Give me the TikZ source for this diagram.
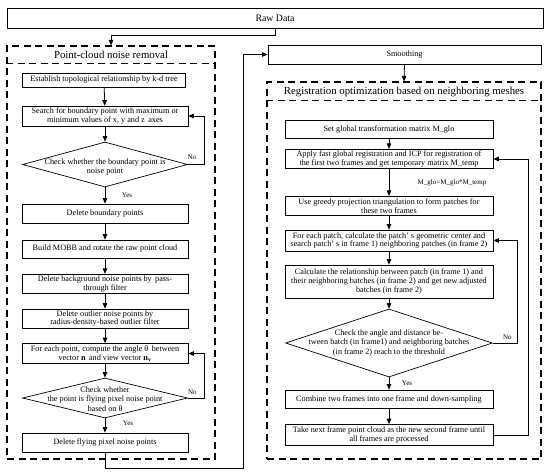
\documentclass[tikz,border=0pt]{standalone}
\usepackage{fontspec}
\setmainfont{Liberation Serif}
\usetikzlibrary{arrows.meta,shapes.geometric}
\begin{document}
\begin{tikzpicture}[x=1pt,y=-1pt,
  box/.style={draw,line width=0.7pt,inner sep=0pt,align=center,font=\fontsize{8.2}{8.9}\selectfont},
  lbox/.style={box,minimum width=166pt},
  rbox/.style={box,minimum width=208pt},
  dia/.style={draw,diamond,line width=0.7pt,inner sep=0pt},
  dtxt/.style={align=center,inner sep=0pt,font=\fontsize{8.2}{9.6}\selectfont},
  dbox/.style={draw,line width=1.1pt,dash pattern=on 7pt off 4.5pt,inner sep=0pt},
  dline/.style={line width=1.1pt,dash pattern=on 7pt off 4.5pt},
  arr/.style={line width=0.8pt,-{Triangle[length=5.5pt,width=4.5pt]}},
  lbl/.style={font=\fontsize{7}{8}\selectfont,inner sep=0pt},
  ttl/.style={font=\fontsize{10.8}{12}\selectfont,inner sep=0pt}]
\useasboundingbox (0,0) rectangle (550,472);

% containers
\node[dbox,minimum width=208pt,minimum height=413pt] (lb) at (111,252.5) {};
\node[dbox,minimum width=274pt,minimum height=377pt] (rb) at (404,270.5) {};
\draw[dline] ([yshift=-18pt]lb.north west) -- ([yshift=-18pt]lb.north east);
\draw[dline] ([yshift=-19pt]rb.north west) -- ([yshift=-19pt]rb.north east);
\node[ttl] (t1) at ([yshift=-9pt]lb.north) {Point-cloud noise removal};
\node[ttl] (t2) at ([yshift=-10pt]rb.north) {Registration optimization based on neighboring meshes};

% top boxes
\node[box,minimum width=536pt,minimum height=20pt,font=\fontsize{9.8}{11}\selectfont] (raw) at (275,18) {Raw Data};
\node[box,minimum width=273pt,minimum height=19pt] (smooth) at (404.5,54.5) {Smoothing};

% left column
\node[lbox,minimum width=163pt,minimum height=14pt] (e1) at (104,80) {Establish topological relationship by k-d tree};
\node[lbox,minimum height=20pt] (e2) at (105,116) {Search for boundary point with maximum or\\minimum values of x, y and z\, axes};
\node[dia,minimum width=165pt,minimum height=45pt] (d1) at (105,164.5) {};
\node[dtxt] (d1t) at (105,167) {Check whether the boundary point is\\noise point};
\node[lbox,minimum height=19pt] (e3) at (105,213.5) {Delete boundary points};
\node[lbox,minimum height=18pt] (e4) at (105,249) {Build MOBB and rotate the raw point cloud};
\node[lbox,minimum height=19.5pt] (e5) at (105,284) {Delete background noise points by\, pass-\\through filter};
\node[lbox,minimum height=19pt] (e6) at (105,318.5) {Delete outlier noise points by\\radius-density-based outlier filter};
\node[lbox,minimum height=20pt] (e7) at (105,353.5) {For each point, compute the angle θ\, between\\vector \textbf{n}\, and view vector \textbf{n}\textsubscript{\textbf{v}}};
\node[dia,minimum width=165pt,minimum height=40pt] (d2) at (105,398) {};
\node[dtxt] (d2t) at (105,399) {Check whether\\the point is flying pixel noise point\\based on θ};
\node[lbox,minimum height=19pt] (e8) at (105,442.5) {Delete flying pixel noise points};

% right column
\node[rbox,minimum height=18pt] (r1) at (389,129) {Set global transformation matrix M\_glo};
\node[rbox,minimum height=19.5pt] (r2) at (389,159) {Apply fast global registration and ICP for registration of\\the first two frames and get temporary matrix M\_temp};
\node[rbox,minimum height=19.5pt] (r3) at (389,206) {Use greedy projection triangulation to form patches for\\these two frames};
\node[rbox,minimum height=21pt] (r4) at (389,240.5) {For each patch, calculate the patch’ s geometric center and\\search patch’ s in frame 1) neighboring patches (in frame 2)};
\node[rbox,minimum height=33pt] (r5) at (389,281.5) {Calculate the relationship between patch (in frame 1) and\\their neighboring batches (in frame 2) and get new adjusted\\batches (in frame 2)};
\node[dia,minimum width=207pt,minimum height=68pt] (d3) at (389,343) {};
\node[dtxt] (d3t) at (389,343) {Check the angle and distance be-\\tween batch (in frame1) and neighboring batches\\(in frame 2) reach to the threshold};
\node[rbox,minimum height=18pt] (r6) at (389,399) {Combine two frames into one frame and down-sampling};
\node[rbox,minimum height=21pt] (r7) at (389,435) {Take next frame point cloud as the new second frame until\\all frames are processed};

% labels
\node[lbl] (no1) at ([xshift=4pt,yshift=7pt]d1.east) {No};
\node[lbl] (yes1) at ([xshift=22pt,yshift=-8pt]d1.south) {Yes};
\node[lbl] (no2) at ([xshift=4.5pt,yshift=6pt]d2.east) {No};
\node[lbl] (yes2) at ([xshift=23pt,yshift=-5pt]d2.south) {Yes};
\node[lbl] (no3) at ([xshift=14.5pt,yshift=6pt]d3.east) {No};
\node[lbl] (yes3) at ([xshift=18pt,yshift=-6pt]d3.south) {Yes};
\node[lbl] (mglo) at (452,183) {M\_glo=M\_glo*M\_temp};

% connectors
\draw[arr] (raw.south) -- ++(0,7) -| (lb.north);
\draw[arr] (smooth.south) -- (rb.north);
\coordinate (j) at (243,468);
\draw[arr] (e8.south) |- (j) |- (smooth.west);

\draw[arr] (e1) -- (e2);
\draw[arr] (e2) -- (d1);
\draw[arr] (d1) -- (e3);
\draw[arr] (e3) -- (e4);
\draw[arr] (e4) -- (e5);
\draw[arr] (e5) -- (e6);
\draw[arr] (e6) -- (e7);
\draw[arr] (e7) -- (d2);
\draw[arr] (d2) -- (e8);
\draw[arr] (d1.east) -- ++(17,0) |- (e2.east);
\draw[arr] (d2.east) -- ++(17,0) |- (e7.east);

\draw[arr] (r1) -- (r2);
\draw[arr] (r2) -- (r3);
\draw[arr] (r3) -- (r4);
\draw[arr] (r4) -- (r5);
\draw[arr] (r5) -- (d3);
\draw[arr] (d3) -- (r6);
\draw[arr] (r6) -- (r7);
\draw[arr] (d3.east) -- ++(24.5,0) |- (r4.east);
\draw[arr] (r7.east) -- ++(35,0) |- (r2.east);
\end{tikzpicture}
\end{document}
